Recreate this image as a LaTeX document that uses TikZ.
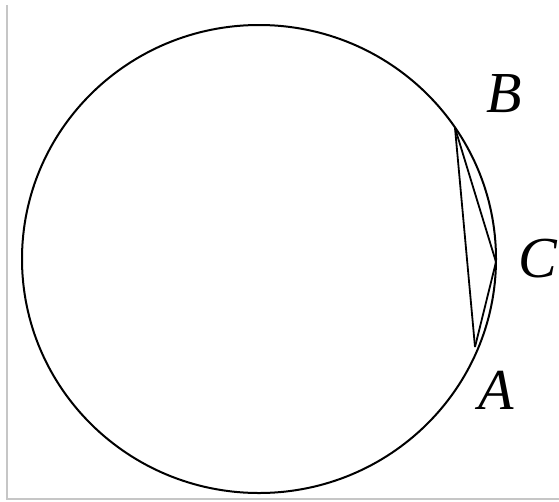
\documentclass[tikz,border=0pt]{standalone}
\usepackage{fontspec}
\setmainfont{Liberation Serif}
\begin{document}
\begin{tikzpicture}[x=1pt,y=-1pt,
  curve/.style={line width=2pt,black},
  chord/.style={line width=1.8pt,black},
  frameline/.style={line width=1.5pt,gray!45},
  lbl/.style={font=\fontsize{58}{58}\selectfont\itshape,inner sep=0pt}]
\useasboundingbox (0,0) rectangle (559,501);
\draw[frameline] (7,5) -- (7,499) -- (559,499);
\node[draw=none,inner sep=0pt] (O) at (259,259) {};
\draw[curve] (O) ellipse [x radius=237, y radius=234];
\coordinate (A) at (475,347);
\coordinate (B) at (455,128);
\coordinate (C) at (496,262);
\draw[chord] (A) -- (B);
\draw[chord] (B) -- (C);
\draw[chord] (C) -- (A);
\node[lbl] (lB) at (504,94) {B};
\node[lbl] (lC) at (538,259) {C};
\node[lbl] (lA) at (496,390) {A};
\end{tikzpicture}
\end{document}
